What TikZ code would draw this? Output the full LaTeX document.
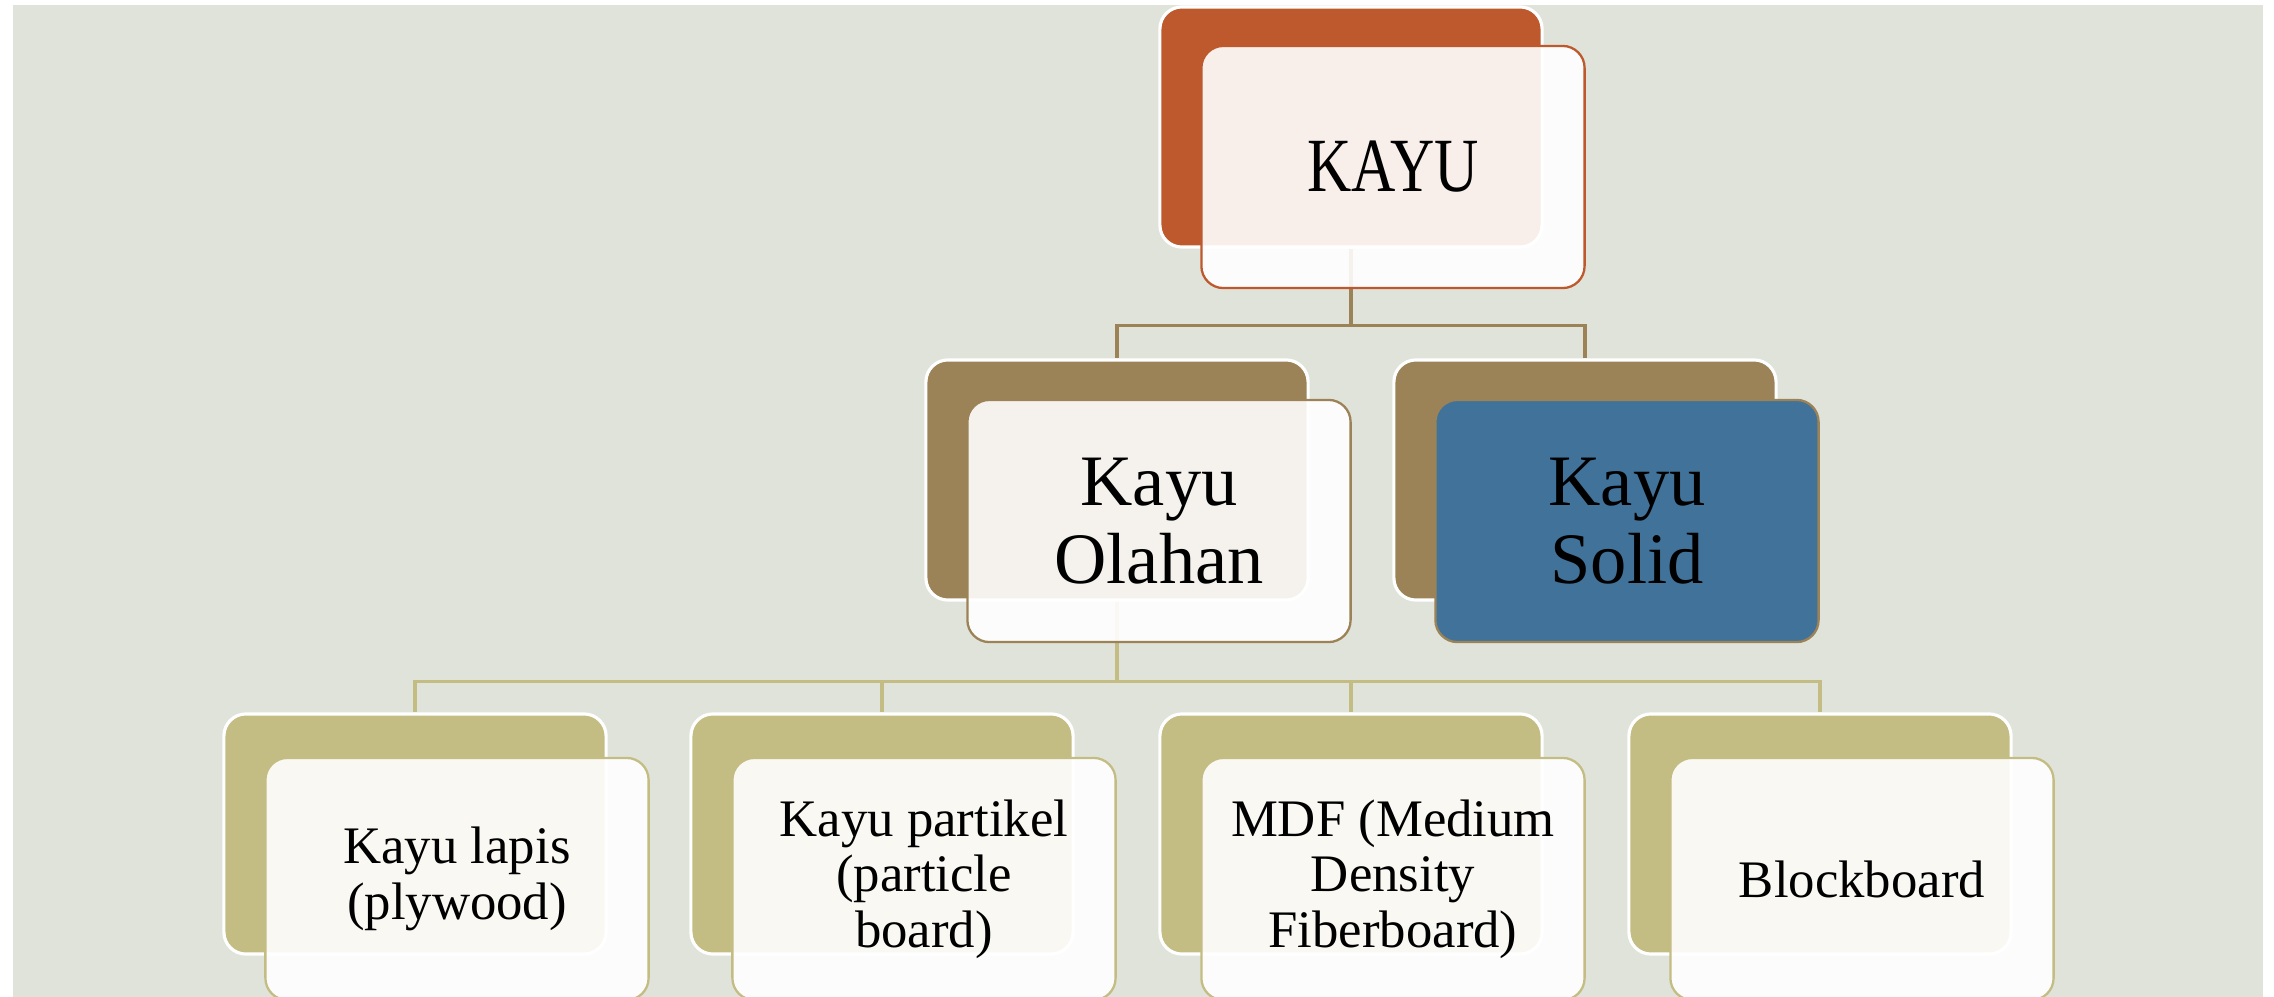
\documentclass[tikz,border=0pt]{standalone}
\usepackage{fontspec}
\setmainfont{Liberation Serif}
\usepackage{graphicx}
\definecolor{bgc}{HTML}{E0E3DA}
\definecolor{rust}{HTML}{BD592D}
\definecolor{wood}{HTML}{9C8257}
\definecolor{olive}{HTML}{C4BD83}
\definecolor{steel}{HTML}{41729A}
\begin{document}
\begin{tikzpicture}[x=0.01cm,y=-0.01cm,
  backbox/.style={draw=white,line width=0.9pt,rounded corners=0.22cm,
    minimum width=3.82cm,minimum height=2.40cm,inner sep=0pt},
  frontbox/.style={draw=#1,fill=white,fill opacity=0.9,text opacity=1,
    line width=0.65pt,rounded corners=0.22cm,minimum width=3.83cm,
    minimum height=2.42cm,inner sep=0pt,align=center},
  conn/.style={draw=#1,line width=0.9pt}]
  % background
  \fill[bgc] (13,5) rectangle (2263,997);
  \useasboundingbox (0,0) rectangle (2274,997);
  % back boxes
  \node[backbox,fill=rust] (kayu) at (1351,127) {};
  \node[backbox,fill=wood] (olahan) at (1117,480) {};
  \node[backbox,fill=wood] (solid) at (1585,480) {};
  \foreach \i/\x in {1/415,2/882,3/1351,4/1820}
    \node[backbox,fill=olive] (b\i) at (\x,834) {};
  % connectors
  \draw[conn=wood] (kayu.south) -- ++(0,77) -| (olahan.north);
  \draw[conn=wood] (kayu.south) -- ++(0,77) -| (solid.north);
  \foreach \i in {1,...,4}
    \draw[conn=olive] (olahan.south) -- ++(0,80) -| (b\i.north);
  % front boxes with text
  \node[frontbox=rust,font=\fontsize{21.8}{23}\selectfont] (kayuF) at (1393,167)
    {\scalebox{0.8}[1]{KAYU}};
  \node[frontbox=wood,font=\fontsize{20.6}{22}\selectfont] (olahanF) at (1159,521)
    {Kayu\\Olahan};
  \node[frontbox=wood,fill=steel,fill opacity=1,font=\fontsize{20.6}{22}\selectfont]
    (solidF) at (1627,521) {Kayu\\Solid};
  \node[frontbox=olive,font=\fontsize{15}{16}\selectfont] (b1F) at (457,879)
    {Kayu lapis\\(plywood)};
  \node[frontbox=olive,font=\fontsize{15}{15.8}\selectfont] (b2F) at (924,879)
    {Kayu partikel\\(particle\\board)};
  \node[frontbox=olive,font=\fontsize{15}{15.8}\selectfont] (b3F) at (1393,879)
    {MDF (Medium\\Density\\Fiberboard)};
  \node[frontbox=olive,font=\fontsize{15}{16}\selectfont] (b4F) at (1862,879)
    {Blockboard};
\end{tikzpicture}
\end{document}
